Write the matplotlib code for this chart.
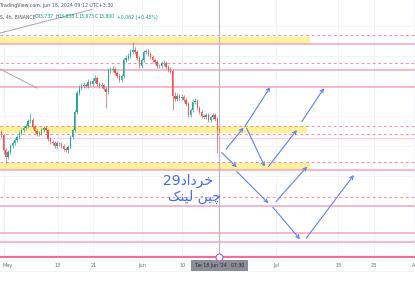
"""
LINK/USDT 4h chart with support / resistance zones and scenario arrows.
"""

import numpy as np
import matplotlib.pyplot as plt

# ---- data -------------------------------------------------------------
# candles every 12h, time in days since May 1
t_start = -1.2
t_step = 0.5
close = [13.70, 13.55, 12.80, 12.45, 12.70, 13.00, 13.15, 13.30, 13.45, 13.65,
         13.80, 13.90, 14.00, 14.25, 14.30, 13.95, 13.75, 13.60, 13.65, 13.80,
         13.90, 13.80, 13.35, 13.20, 13.15, 13.00, 13.15, 13.10, 13.00, 12.85,
         12.80, 12.95, 13.45, 13.80, 14.70, 15.65, 15.90, 16.00, 16.05, 16.00,
         16.20, 16.10, 16.25, 16.40, 16.10, 16.00, 16.05, 15.85, 15.70, 16.80,
         16.80, 16.85, 16.65, 16.50, 16.30, 16.50, 17.30, 17.40, 17.50, 17.70,
         17.80, 17.70, 17.40, 17.00, 17.30, 17.70, 17.75, 17.60, 17.45, 17.30,
         17.20, 17.00, 17.00, 17.15, 17.15, 16.95, 16.80, 16.75, 15.50, 15.35,
         15.50, 15.40, 15.45, 15.30, 15.10, 14.55, 14.80, 15.20, 15.25, 14.90,
         14.70, 14.50, 14.45, 14.55, 14.30, 14.45, 14.55, 14.35, 13.85, 13.80]
high = [13.85, 13.78, 13.60, 12.90, 12.80, 13.10, 13.25, 13.40, 13.55, 13.75,
        13.90, 14.00, 14.10, 14.35, 14.65, 14.40, 14.05, 13.85, 13.75, 13.90,
        14.00, 13.98, 13.85, 13.45, 13.30, 13.25, 13.25, 13.22, 13.18, 13.08,
        12.95, 13.05, 13.55, 13.90, 14.80, 15.75, 16.05, 16.15, 16.20, 16.15,
        16.35, 16.30, 16.40, 16.55, 16.50, 16.20, 16.18, 16.12, 15.95, 16.90,
        16.95, 17.00, 16.95, 16.75, 16.60, 16.60, 17.40, 17.55, 17.65, 17.85,
        18.20, 17.95, 17.80, 17.50, 17.40, 17.80, 17.85, 17.85, 17.70, 17.55,
        17.40, 17.30, 17.12, 17.25, 17.28, 17.25, 17.05, 16.95, 16.85, 15.70,
        15.65, 15.60, 15.60, 15.55, 15.40, 15.20, 14.90, 15.35, 15.40, 15.35,
        15.00, 14.80, 14.60, 14.65, 14.65, 14.55, 14.65, 14.65, 14.45, 13.92]
low = [13.60, 13.45, 12.60, 12.15, 12.35, 12.60, 12.90, 13.05, 13.20, 13.35,
       13.55, 13.70, 13.80, 13.90, 14.15, 13.85, 13.65, 13.50, 13.50, 13.55,
       13.70, 13.70, 13.25, 13.10, 13.05, 12.90, 12.92, 13.00, 12.90, 12.75,
       12.70, 12.65, 12.88, 13.35, 13.70, 14.60, 15.55, 15.80, 15.90, 15.88,
       15.90, 16.00, 16.00, 16.15, 16.00, 15.90, 15.92, 15.75, 14.90, 15.60,
       16.65, 16.70, 16.55, 16.40, 16.20, 16.20, 16.40, 17.20, 17.30, 17.40,
       17.60, 17.60, 17.30, 16.90, 16.90, 17.20, 17.60, 17.50, 17.35, 17.20,
       17.10, 16.90, 16.88, 16.90, 17.02, 16.85, 16.70, 16.65, 14.80, 15.25,
       15.25, 15.30, 15.30, 15.20, 15.00, 14.45, 14.45, 14.70, 15.10, 14.80,
       14.60, 14.40, 14.35, 14.35, 14.20, 14.20, 14.35, 14.25, 12.65, 13.72]
first_open = 13.75

# horizontal levels (price)
solid_levels = [18.09, 16.80, 15.97, 11.79, 9.99, 8.65, 8.20]
light_levels = [13.42]
dashed_levels = [18.55, 17.17, 14.02, 13.59, 12.22, 10.44]
bottom_level = 7.47
# yellow zones: (low, high, end day)
zones = [(18.10, 18.47, 68.7), (13.64, 13.98, 68.0), (11.80, 12.17, 68.7)]

# gray trend lines (day, price)
trend_lines = [((-1.0, 16.85), (7.3, 15.90)),
               ((-1.0, 18.65), (19.7, 19.83))]

# scenario arrows: start (day, price) -> end (day, price)
arrow_start = [(48.8, 12.67), (49.8, 12.84), (54.0, 13.97), (54.4, 13.89),
               (59.3, 11.97), (66.8, 14.22), (52.2, 11.72), (61.0, 10.22),
               (60.3, 9.94), (67.8, 8.39)]
arrow_end = [(52.2, 11.94), (53.7, 13.92), (59.7, 15.94), (58.5, 11.97),
             (65.7, 13.80), (71.8, 15.89), (59.3, 10.14), (68.0, 11.97),
             (66.4, 8.34), (78.5, 11.55)]

# time axis
tick_days = [0, 12, 20, 31, 40, 61, 75, 83, 92]
tick_labels = ['May', '13', '21', 'Jun', '10', 'Jul', '15', '23', 'A']
now_day = 48.31
now_label = "Tue 18 Jun '24   07:30"

# ---- figure -------------------------------------------------------------
W, H = 415, 285
fig = plt.figure(figsize=(W / 100, H / 100), dpi=100)
ax = fig.add_axes([0, 27 / H, 1, 258 / H])
ax.set_xlim(-1.01, 92.25)
ax.set_ylim(7.4, 20.3)
ax.set_axis_off()

# faint grid
for d in tick_days:
    ax.axvline(d, color='#f0f3fa', lw=0.7, zorder=0)
for p in [19.0, 17.5, 16.0, 14.5, 13.0, 11.5, 10.0, 8.5]:
    ax.axhline(p, color='#f4f5f8', lw=0.7, zorder=0)

# yellow zones
for lo, hi, end in zones:
    ax.fill_between([-1.5, end], lo, hi, color='#fdf29a', lw=0, zorder=1)

# levels
for p in solid_levels:
    ax.axhline(p, color='#f7a3c0', lw=1.1, zorder=2)
for p in light_levels:
    ax.axhline(p, color='#fbd3e0', lw=1.0, zorder=2)
for p in dashed_levels:
    ax.axhline(p, color='#f48fb1', lw=0.8, ls=(0, (2.5, 2.5)), zorder=2)
ax.axhline(bottom_level, color='#f06e9a', lw=1.6, zorder=2)

# trend lines
for (x0, y0), (x1, y1) in trend_lines:
    ax.plot([x0, x1], [y0, y1], color='#a3a6ae', lw=0.7, zorder=2)

# candles
close = np.array(close)
high = np.array(high)
low = np.array(low)
opens = np.concatenate([[first_open], close[:-1]])
t = t_start + t_step * np.arange(len(close))
up = close >= opens
colors = np.where(up, '#26a69a', '#ef5350')
ax.vlines(t, low, high, colors=colors, lw=0.5, zorder=3)
ax.bar(t, np.abs(close - opens) + 0.02, bottom=np.minimum(opens, close),
       width=0.3, color=colors, lw=0, zorder=3)

# current time line
ax.axvline(now_day, color='#b2b5be', lw=0.8, zorder=2)
ax.plot(now_day, bottom_level, 'o', ms=5, mfc='white', mec='#b05ad6',
        mew=0.8, zorder=5, clip_on=False)

# arrows
for s, e in zip(arrow_start, arrow_end):
    ax.annotate('', xy=e, xytext=s,
                arrowprops=dict(arrowstyle='->', color='#5b84f2', lw=0.8,
                                mutation_scale=6, shrinkA=0, shrinkB=0),
                zorder=4)

# persian note (presentation forms, visual order)
ax.text(41.2, 11.25, '29\uFEA9\uFE8D\uFEA9\uFEAE\uFEA7', color='#3d6ef5',
        fontsize=10, family='DejaVu Sans', ha='center', va='center', zorder=5)
ax.text(42.8, 10.45, '\uFB8F\uFEE8\uFBFF\uFEDF \uFEE6\uFBFF\uFB7C',
        color='#3d6ef5', fontsize=10, family='DejaVu Sans',
        ha='center', va='center', zorder=5)

# time axis labels
xt = ax.get_xaxis_transform()
for d, lab in zip(tick_days, tick_labels):
    ha = 'left' if d == tick_days[0] else 'center'
    xd = -0.56 if d == tick_days[0] else d
    ax.text(xd, -0.03, lab, transform=xt, ha=ha, va='center',
            fontsize=3.6, color='#6a6d78', clip_on=False)
ax.text(now_day, -0.03, now_label, transform=xt, ha='center', va='center',
        fontsize=3.3, color='#1e222d', clip_on=False,
        bbox=dict(boxstyle='square,pad=0.7', fc='#8a8d96', ec='none'))
fig.add_artist(plt.Line2D([0, 1], [1 - 271 / H, 1 - 271 / H],
                          color='#f0f1f4', lw=0.6))

# header
fig.text(0.0, 1 - 5 / H, 'TradingView.com, Jun 18, 2024 09:12 UTC+3:30',
         fontsize=3.4, color='#50535e', va='center')
fig.text(0.0, 1 - 17 / H, 'S, 4h, BINANCE', fontsize=3.3, color='#50535e',
         va='center')
hdr = [('O', 34.5, '#50535e'), ('13.737', 37.5, '#089981'),
       ('H', 55, '#50535e'), ('13.838', 58.5, '#089981'),
       ('L', 75, '#50535e'), ('13.675', 78, '#089981'),
       ('C', 95, '#50535e'), ('13.800', 98.5, '#089981'),
       ('+0.062 (+0.45%)', 117, '#089981')]
for txt, xp, col in hdr:
    fig.text(xp / W, 1 - 17 / H, txt, fontsize=3.3, color=col, va='center')

plt.savefig('out.png', dpi=100)
plt.close()
